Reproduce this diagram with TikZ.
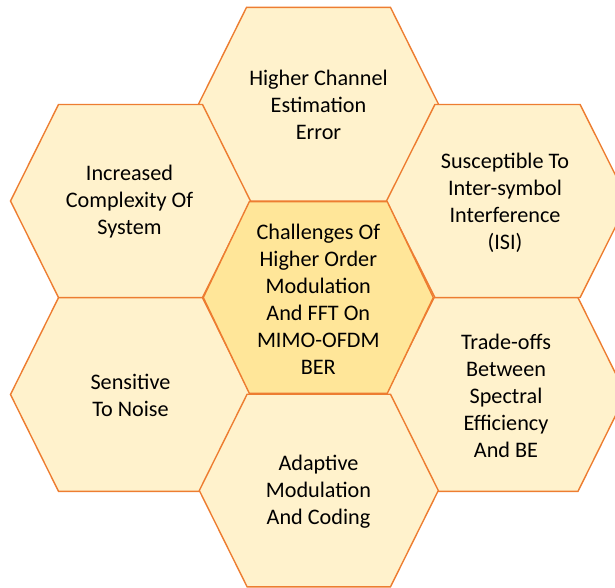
\documentclass[tikz,border=0pt]{standalone}
\usepackage{fontspec}
\setmainfont{Carlito}
\definecolor{hexfill}{HTML}{FFF2CC}
\definecolor{hexcore}{HTML}{FFE699}
\definecolor{hexedge}{HTML}{ED7D31}
\tikzset{
  hexline/.style={draw=hexedge, line width=1.4pt, line join=miter},
  hextext/.style={align=center, font=\fontsize{22.2}{27}\selectfont, text=black, inner sep=0pt},
}
% #1 cx, #2 cy, #3 half width, #4 half height, #5 fill
\newcommand\hexdraw[5]{%
  \path[hexline, fill=#5]
    ({#1-#3},{#2}) -- ({#1-0.6*#3},{#2-#4}) -- ({#1+0.6*#3},{#2-#4})
    -- ({#1+#3},{#2}) -- ({#1+0.6*#3},{#2+#4}) -- ({#1-0.6*#3},{#2+#4}) -- cycle;}
\begin{document}
\begin{tikzpicture}[x=1pt,y=-1pt]
\useasboundingbox (0,0) rectangle (615,588);
\hexdraw{318.5}{104.2}{120}{96.8}{hexfill}
\hexdraw{130.5}{201}{120}{96.5}{hexfill}
\hexdraw{507.5}{201}{121}{96.5}{hexfill}
\hexdraw{130.5}{394.5}{120}{96.8}{hexfill}
\hexdraw{506}{394.5}{120}{96.8}{hexfill}
\hexdraw{318.8}{490.5}{119.5}{96.3}{hexfill}
\hexdraw{318.3}{297.5}{115}{95.8}{hexcore}
\node[hextext] (top) at (318.5,105) {Higher Channel\\Estimation\\Error};
\node[hextext] (lt) at (129.5,202) {Increased\\Complexity Of\\System};
\node[hextext] (rt) at (505,202.5) {Susceptible To\\Inter-symbol\\Interference\\(ISI)};
\node[hextext] (lb) at (130.5,395.5) {Sensitive\\To Noise};
\node[hextext] (rb) at (506,396) {Trade-offs\\Between\\Spectral\\Efficiency\\And BE};
\node[hextext] (bot) at (318.5,492) {Adaptive\\Modulation\\And Coding};
\node[hextext] (core) at (318.3,299.5) {Challenges Of\\Higher Order\\Modulation\\And FFT On\\MIMO-OFDM\\BER};
\end{tikzpicture}
\end{document}
